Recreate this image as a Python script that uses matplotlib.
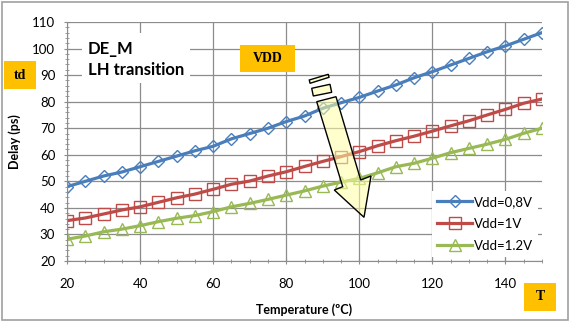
import numpy as np
import matplotlib
matplotlib.use("Agg")
import matplotlib.pyplot as plt
from matplotlib.patches import Rectangle, Polygon

plt.rcParams['font.family'] = ['Lato', 'DejaVu Sans']

temperature = [20, 25, 30, 35, 40, 45, 50, 55, 60, 65, 70, 75, 80, 85,
               90, 95, 100, 105, 110, 115, 120, 125, 130, 135, 140, 145, 150]
vdd_08 = [48.0, 50.0, 52.0, 53.5, 55.5, 57.5, 59.5, 61.5, 63.2, 66.0, 68.0, 70.0, 72.5, 74.6,
          77.5, 79.6, 81.6, 84.0, 86.3, 89.0, 91.3, 93.8, 96.3, 98.8, 101.0, 103.5, 106.0]
vdd_1 = [35.2, 36.2, 37.7, 39.2, 40.4, 42.1, 43.8, 45.2, 47.0, 48.9, 50.1, 52.0, 53.6, 55.6,
         57.5, 59.3, 61.2, 63.4, 65.3, 67.0, 68.9, 70.9, 72.8, 75.0, 77.1, 79.4, 81.0]
vdd_12 = [28.2, 29.4, 31.0, 32.0, 33.3, 34.8, 36.1, 37.1, 38.6, 40.4, 41.7, 43.2, 44.8, 46.4,
          48.2, 49.7, 51.1, 53.2, 55.5, 56.8, 58.7, 60.8, 62.4, 64.0, 65.8, 68.1, 70.0]
labels = ['Vdd=0,8V', 'Vdd=1V', 'Vdd=1.2V']

W, H = 571, 322
fig = plt.figure(figsize=(W / 100, H / 100), dpi=100)

def fx(x):
    return x / W

def fy(y):
    return 1 - y / H

ax = fig.add_axes([fx(67), fy(261), fx(542 - 67), (261 - 22) / H])

ax.plot(temperature, vdd_08, color='#4A7EBB', lw=2.3, marker='D', ms=6.5,
        mfc='none', mec='#4A7EBB', mew=1.0, label=labels[0])
ax.plot(temperature, vdd_1, color='#BE4B48', lw=2.3, marker='s', ms=8.5,
        mfc='none', mec='#BE4B48', mew=1.0, label=labels[1])
ax.plot(temperature, vdd_12, color='#98B954', lw=2.3, marker='^', ms=8.5,
        mfc='none', mec='#98B954', mew=1.0, label=labels[2])

ax.set_xlim(20, 150)
ax.set_ylim(20, 110)
ax.set_xticks(np.arange(20, 150, 20))
ax.set_xticks(np.arange(20, 151, 5), minor=True)
ax.set_yticks(np.arange(20, 111, 10))
ax.set_yticks(np.arange(20, 111, 2), minor=True)
ax.grid(True, which='major', color='#8c8c8c', lw=0.9)
ax.set_axisbelow(True)
for s in ['top', 'right']:
    ax.spines[s].set_visible(False)
for s in ['left', 'bottom']:
    ax.spines[s].set_color('#8c8c8c')
ax.tick_params(which='major', direction='inout', length=5, color='#8c8c8c', labelsize=9.5)
ax.tick_params(which='minor', direction='inout', length=3, color='#8c8c8c')
ax.tick_params(axis='y', pad=6)
ax.tick_params(axis='x', pad=10)

ax.set_xlabel('Temperature (ºC)', fontsize=9, fontweight='bold', labelpad=9)
ax.set_ylabel('Delay (ps)', fontsize=9, fontweight='bold', labelpad=8)

leg = ax.legend(loc='lower right', fontsize=9.5, frameon=True, fancybox=False,
                edgecolor='none', facecolor='white', framealpha=1,
                handlelength=2.6, handletextpad=0.15, labelspacing=0.75,
                borderaxespad=0.3)

# text box
fig.patches.append(Rectangle((fx(82), fy(83)), fx(108), 50 / H, transform=fig.transFigure,
                             facecolor='white', edgecolor='none', zorder=2))
fig.text(fx(88), fy(41), 'DE_M\nLH transition', fontsize=12, fontweight='bold',
         va='top', ha='left', linespacing=1.35, zorder=3)

# outer frame
fig.patches.append(Rectangle((fx(2), fy(320)), fx(566), 318 / H, transform=fig.transFigure,
                             fill=False, edgecolor='#a0a0a0', lw=1.2))

# orange labels
for x0, y0, x1, y1, t in [(4, 61, 36, 89, 'td'), (240, 45, 295, 72, 'VDD'),
                          (524, 283, 556, 311, 'T')]:
    fig.patches.append(Rectangle((fx(x0), fy(y1)), fx(x1 - x0), (y1 - y0) / H,
                                 transform=fig.transFigure, facecolor='#FFC000',
                                 edgecolor='none', zorder=5))
    fig.text(fx((x0 + x1) / 2), fy((y0 + y1) / 2), t, ha='center', va='center',
             family=['Liberation Serif', 'DejaVu Serif'], fontweight='bold',
             fontsize=10, zorder=6)

# striped block arrow
arrow_shapes = [
    [(309.3, 80), (328.3, 74.3), (329, 77.3), (310, 83.3)],
    [(311.7, 88.3), (330, 84.3), (331.7, 92.3), (313.3, 96)],
    [(316.7, 101.7), (336, 96.7), (360.7, 180), (371, 176), (364, 217.3),
     (334.3, 190), (342.7, 186.7)],
]
for pts in arrow_shapes:
    fig.patches.append(Polygon([(fx(a), fy(b)) for a, b in pts], closed=True,
                               transform=fig.transFigure,
                               facecolor=(1, 1, 0.65, 0.55), edgecolor='black',
                               lw=1.0, zorder=4))

fig.savefig('out.png', dpi=100)
